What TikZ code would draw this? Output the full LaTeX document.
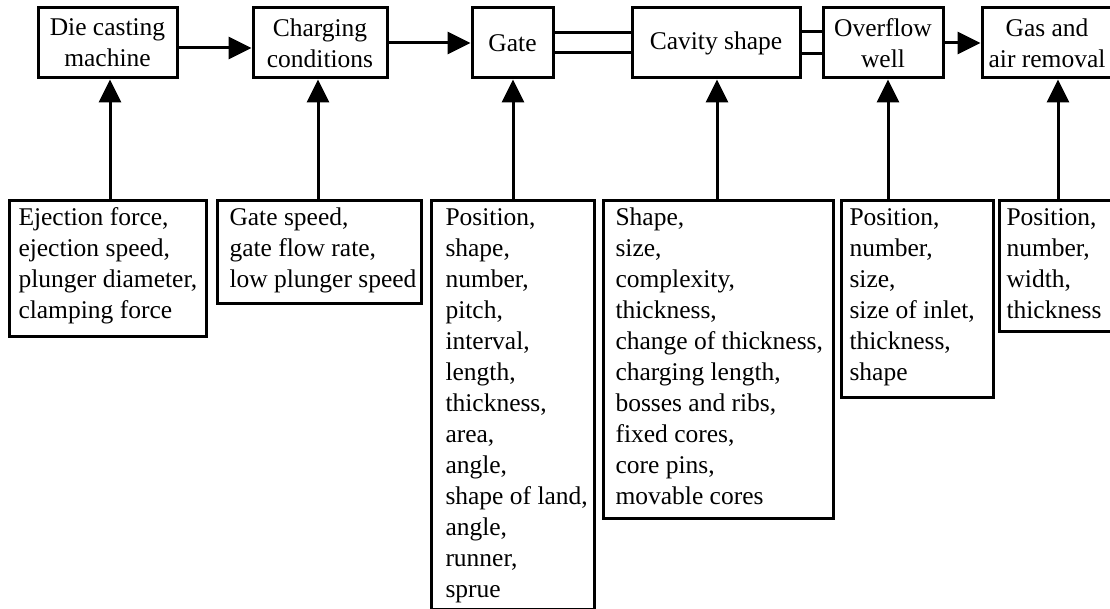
\documentclass[tikz,border=0pt]{standalone}
\usepackage{fontspec}
\setmainfont{Liberation Serif}
\usetikzlibrary{arrows.meta}
\newcommand{\lstbox}[4]{\makebox[#2pt][l]{\hspace*{#1pt}\parbox[c][#3pt][t]{500pt}{\rule{0pt}{25pt}#4}}}
\begin{document}
\begin{tikzpicture}[x=1pt,y=-1pt,
  every node/.style={font=\fontsize{25.5pt}{31pt}\selectfont},
  topbox/.style={draw, line width=3pt, inner sep=0pt, minimum height=70pt, align=center},
  lbox/.style={draw, line width=3pt, inner sep=0pt, anchor=north west},
  conn/.style={line width=3pt},
  arr/.style={line width=3pt, -{Triangle[length=23pt,width=22pt]}}]
\fill[white] (0,0) rectangle (1110,609);
\useasboundingbox (0,0) rectangle (1110,609);
% top row
\node[topbox, minimum width=139pt] (die) at (107.5,43) {Die casting\\machine};
\node[topbox, minimum width=134pt] (chg) at (320,43) {Charging\\conditions};
\node[topbox, minimum width=81pt] (gate) at (512.5,43) {Gate};
\node[topbox, minimum width=168pt] (cav) at (716,43) {Cavity shape};
\node[topbox, minimum width=120pt] (ovf) at (883,43) {Overflow\\well};
\node[topbox, minimum width=130pt] (gas) at (1047,43) {Gas and\\air removal};
% bottom row
\node[lbox] (ejl) at (8,199) {\lstbox{9}{197}{136}{Ejection force,\\ejection speed,\\plunger diameter,\\clamping force}};
\node[lbox] (chl) at (216,199) {\lstbox{12}{204}{103}{Gate speed,\\gate flow rate,\\low plunger speed}};
\node[lbox] (gal) at (430,199) {\lstbox{14}{163}{409}{Position,\\shape,\\number,\\pitch,\\interval,\\length,\\thickness,\\area,\\angle,\\shape of land,\\angle,\\runner,\\sprue}};
\node[lbox] (cal) at (602,199) {\lstbox{12}{230}{318}{Shape,\\size,\\complexity,\\thickness,\\change of thickness,\\charging length,\\bosses and ribs,\\fixed cores,\\core pins,\\movable cores}};
\node[lbox] (ovl) at (840,199) {\lstbox{8}{152}{197}{Position,\\number,\\size,\\size of inlet,\\thickness,\\shape}};
\node[lbox] (gsl) at (998,199) {\lstbox{7}{115}{131}{Position,\\number,\\width,\\thickness}};
% x positions of vertical arrows
\coordinate (xa) at (110,0);
\coordinate (xb) at (318,0);
\coordinate (xc) at (513,0);
\coordinate (xd) at (717,0);
\coordinate (xe) at (888,0);
\coordinate (xf) at (1058,0);
\draw[arr] (ejl.north -| xa) -- (die.south -| xa);
\draw[arr] (chl.north -| xb) -- (chg.south -| xb);
\draw[arr] (gal.north -| xc) -- (gate.south -| xc);
\draw[arr] (cal.north -| xd) -- (cav.south -| xd);
\draw[arr] (ovl.north -| xe) -- (ovf.south -| xe);
\draw[arr] (gsl.north -| xf) -- (gas.south -| xf);
% horizontal connectors
\draw[arr] ([yshift=-5pt]die.east) -- ([yshift=-5pt]chg.west);
\draw[arr] (chg.east) -- (gate.west);
\draw[conn] ([yshift=10pt]gate.east) -- ([yshift=10pt]cav.west);
\draw[conn] ([yshift=-10pt]gate.east) -- ([yshift=-10pt]cav.west);
\draw[conn] ([yshift=11pt]cav.east) -- ([yshift=11pt]ovf.west);
\draw[conn] ([yshift=-11pt]cav.east) -- ([yshift=-11pt]ovf.west);
\draw[arr] (ovf.east) -- (gas.west);
\end{tikzpicture}
\end{document}
